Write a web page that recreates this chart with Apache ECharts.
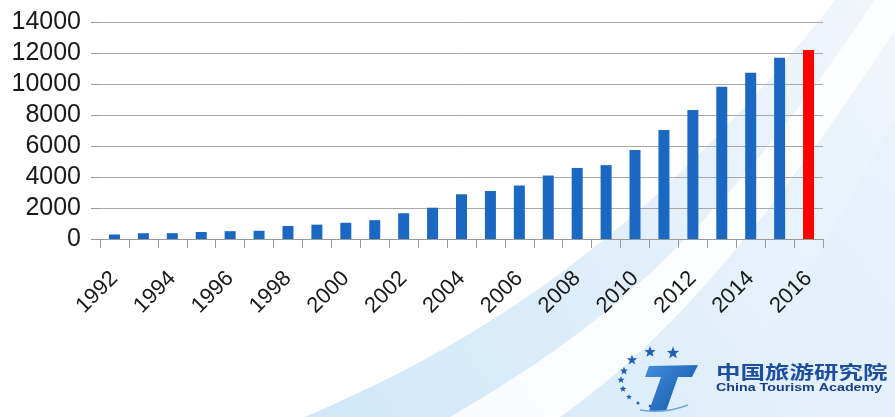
<!DOCTYPE html>
<html>
<head>
<meta charset="utf-8">
<script src="https://cdn.jsdelivr.net/npm/echarts@6/dist/echarts.min.js"></script>
<style>
html,body{margin:0;padding:0;background:#ffffff;}
#chart{width:895px;height:417px;}
</style>
</head>
<body>
<div id="chart"></div>
<script>
var years = ['1992','1993','1994','1995','1996','1997','1998','1999','2000','2001','2002','2003','2004','2005','2006','2007','2008','2009','2010','2011','2012','2013','2014','2015','2016'];
var visitors = [290, 370, 375, 450, 505, 530, 840, 925, 1045, 1215, 1660, 2020, 2885, 3100, 3450, 4095, 4585, 4765, 5740, 7025, 8320, 9820, 10730, 11690, 12200];
var yTicks = [0, 2000, 4000, 6000, 8000, 10000, 12000, 14000];
var logoCn = '中国旅游研究院';
var logoEn = 'China Tourism Academy';

var chart = echarts.init(document.getElementById('chart'), null, {renderer: 'canvas'});
var lastIdx = visitors.length - 1;

// sample a cubic bezier into points (decoration only)
function bez(p0, p1, p2, p3) {
  var out = [];
  for (var i = 0; i <= 40; i++) {
    var t = i / 40, u = 1 - t;
    out.push([
      u*u*u*p0[0] + 3*u*u*t*p1[0] + 3*u*t*t*p2[0] + t*t*t*p3[0],
      u*u*u*p0[1] + 3*u*u*t*p1[1] + 3*u*t*t*p2[1] + t*t*t*p3[1]
    ]);
  }
  return out;
}
function lin(x, y, x2, y2, stops) {
  return {type: 'linear', x: x, y: y, x2: x2, y2: y2, colorStops: stops, global: false};
}

function star(cx, cy, r) {
  var pts = [];
  for (var i = 0; i < 10; i++) {
    var rr = i % 2 === 0 ? r : r * 0.42;
    var a = -Math.PI / 2 + i * Math.PI / 5;
    pts.push([cx + rr * Math.cos(a), cy + rr * Math.sin(a)]);
  }
  return {type: 'polygon', shape: {points: pts}, style: {fill: '#1f5fae'}, z: 5, silent: true};
}

var bandA = bez([305,417],[460,350],[640,250],[835,0]).concat([[895,0],[895,417]]);
var stripeL = bez([450,417],[580,340],[700,260],[875,0]);
var stripeR = bez([560,417],[670,340],[770,220],[895,30]).reverse();
var stripe = stripeL.concat([[895,0]]).concat(stripeR);
var bandC = bez([700,417],[780,330],[850,200],[895,120]).concat([[895,417]]);

var graphics = [
  {type: 'polygon', z: -10, silent: true, shape: {points: bandA},
   style: {fill: lin(0, 1, 1, 0, [
     {offset: 0, color: '#cfe7f8'}, {offset: 0.55, color: '#e3f0fb'}, {offset: 1, color: '#f1f6fb'}])}},
  {type: 'polygon', z: -9, silent: true, shape: {points: stripe},
   style: {fill: 'rgba(255,255,255,0.85)'}},
  {type: 'polygon', z: -8, silent: true, shape: {points: bandC},
   style: {fill: 'rgba(225,239,250,0.5)'}},
  {type: 'polygon', z: 5, silent: true,
   shape: {points: [[649,366],[698,365],[692,377],[678,377],[666,411],[649,411],[661,377],[645,377]]},
   style: {fill: lin(0, 0, 1, 1, [
     {offset: 0, color: '#3f8fdc'}, {offset: 1, color: '#1552a6'}])}},
  {type: 'bezierCurve', z: 5, silent: true,
   shape: {x1: 640, y1: 410, x2: 688, y2: 405, cpx1: 665, cpy1: 414},
   style: {stroke: '#6fa5d8', lineWidth: 1.5, fill: null}},
  star(632, 360, 5.5), star(650, 352, 6), star(673, 353, 6.5),
  star(624, 371, 4.2), star(621, 380, 3.8), star(623, 389, 3.5), star(629, 397, 3),
  {type: 'circle', z: 5, silent: true, shape: {cx: 638, cy: 403, r: 1.5}, style: {fill: '#1f5fae'}},
  {type: 'circle', z: 5, silent: true, shape: {cx: 650, cy: 406, r: 1.3}, style: {fill: '#1f5fae'}},
  {type: 'text', z: 5, silent: true, x: 716, y: 363, scaleX: 1.36,
   style: {text: logoCn, fontSize: 18, fontWeight: 'bold', fill: '#1d4f9e',
           fontFamily: '"Noto Sans CJK SC", sans-serif', verticalAlign: 'top'}},
  {type: 'text', z: 5, silent: true, x: 716, y: 382, scaleX: 1.24,
   style: {text: logoEn, fontSize: 11.5, fontWeight: 'bold', fill: '#1b3d82',
           fontFamily: '"Liberation Sans", Arial, sans-serif', verticalAlign: 'top'}}
];

var option = {
  backgroundColor: '#ffffff',
  animation: false,
  graphic: graphics,
  grid: {left: 100, right: 72, top: 22, bottom: 178, containLabel: false},
  xAxis: {
    type: 'category',
    data: years,
    boundaryGap: true,
    axisLine: {show: true, lineStyle: {color: '#9a9a9a', width: 1}},
    axisTick: {show: true, length: 9, interval: 0, lineStyle: {color: '#9a9a9a'}},
    axisLabel: {
      interval: 1, rotate: 45, margin: 36,
      fontSize: 22, color: '#1a1a1a',
      fontFamily: '"Liberation Sans", Arial, sans-serif'
    }
  },
  yAxis: {
    type: 'value',
    min: yTicks[0], max: yTicks[yTicks.length - 1], interval: 2000,
    axisLine: {show: false},
    axisTick: {show: true, length: 9, lineStyle: {color: '#9a9a9a'}},
    splitLine: {show: true, lineStyle: {color: '#a8a8a8', width: 1}},
    axisLabel: {
      margin: 19, fontSize: 25, color: '#1a1a1a',
      fontFamily: '"Liberation Sans", Arial, sans-serif',
      formatter: function (v) { return String(v); }
    }
  },
  series: [{
    type: 'bar',
    data: visitors,
    barWidth: 11,
    itemStyle: {
      color: function (p) { return p.dataIndex === lastIdx ? '#ff0000' : '#1a68c2'; }
    }
  }]
};
chart.setOption(option);
</script>
</body>
</html>
